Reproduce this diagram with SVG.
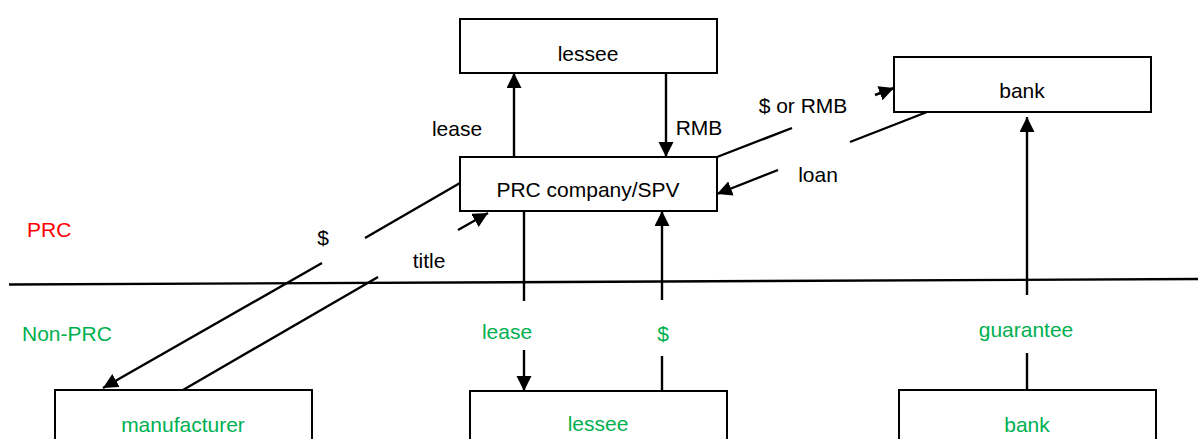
<svg xmlns="http://www.w3.org/2000/svg" width="1198" height="439" viewBox="0 0 1198 439">
<style>
.box{fill:#fff;stroke:#000;stroke-width:2}
.t{font-family:"Liberation Sans",Arial,sans-serif;font-size:21px;text-anchor:middle;fill:#000}
.g{fill:#00b050}
.r{fill:#ff0000}
.c{fill:none;stroke:#000;stroke-width:2.4}
</style>
<defs>
<marker id="ah" markerUnits="userSpaceOnUse" markerWidth="16" markerHeight="16" refX="15" refY="7.5" orient="auto">
<path d="M0,0 L15,7.5 L0,15 z" fill="#000"/>
</marker>
</defs>
<g id="divider"><path class="c" d="M9,284.5 L1198,279"/></g>
<g id="region-labels">
<text class="t r" x="27" y="237" style="text-anchor:start">PRC</text>
<text class="t g" x="22" y="341" style="text-anchor:start">Non-PRC</text>
</g>
<g id="lessee-top"><rect class="box" x="460" y="19" width="257" height="54"/><text class="t" x="588" y="61">lessee</text></g>
<g id="prc-spv"><rect class="box" x="460" y="157" width="257" height="54"/><text class="t" x="588" y="197">PRC company/SPV</text></g>
<g id="bank-top"><rect class="box" x="894" y="57" width="257" height="55"/><text class="t" x="1022" y="98">bank</text></g>
<g id="manufacturer"><rect class="box" x="55" y="390" width="257" height="60"/><text class="t g" x="183" y="432">manufacturer</text></g>
<g id="lessee-bottom"><rect class="box" x="470" y="391" width="257" height="60"/><text class="t g" x="598" y="431">lessee</text></g>
<g id="bank-bottom"><rect class="box" x="899" y="390" width="257" height="60"/><text class="t g" x="1027" y="432">bank</text></g>
<g id="connectors">
<path class="c" d="M514,157 L514,73" marker-end="url(#ah)"/>
<path class="c" d="M666,73 L666,157" marker-end="url(#ah)"/>
<path class="c" d="M717,157 L792,128 M875,95 L894,88" marker-end="url(#ah)"/>
<path class="c" d="M927,112 L850,142 M778,170 L717,194" marker-end="url(#ah)"/>
<path class="c" d="M1027,390 L1027,353 M1027,295 L1027,117" marker-end="url(#ah)"/>
<path class="c" d="M524,211 L524,301 M524,350 L524,391" marker-end="url(#ah)"/>
<path class="c" d="M662,391 L662,356 M662,300 L662,211" marker-end="url(#ah)"/>
<path class="c" d="M460,183 L365,238 M322,263 L103,388" marker-end="url(#ah)"/>
<path class="c" d="M183,390 L378,277 M458,230 L488,213" marker-end="url(#ah)"/>
</g>
<g id="connector-labels">
<text class="t" x="457" y="136">lease</text>
<text class="t" x="699" y="135">RMB</text>
<text class="t" x="803" y="113">$ or RMB</text>
<text class="t" x="818" y="182">loan</text>
<text class="t" x="323" y="245">$</text>
<text class="t" x="429" y="268">title</text>
<text class="t g" x="507" y="339">lease</text>
<text class="t g" x="663" y="341">$</text>
<text class="t g" x="1026" y="337">guarantee</text>
</g>
</svg>
